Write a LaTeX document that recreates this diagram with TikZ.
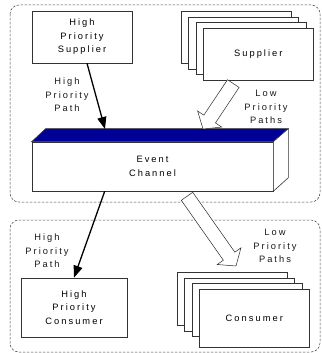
\documentclass[tikz,border=0pt]{standalone}
\usepackage{fontspec}
\setmainfont{Liberation Sans}[LetterSpace=22]
\usepackage{tikz}
\usetikzlibrary{arrows.meta}
\usetikzlibrary{calc}
\tikzset{>={Triangle[length=12pt,width=9pt]}}
\definecolor{chanblue}{RGB}{0,0,150}
\tikzset{
  box/.style={draw=black!80, fill=white, line width=0.6pt, inner sep=0pt, align=center},
  region/.style={draw=black!75, dash pattern=on 2.5pt off 1.5pt, rounded corners=9pt, line width=0.5pt},
  hipath/.style={->, line width=1.3pt},
  lopath/.style={draw=black!85, fill=white, line width=0.5pt, line join=miter},
  tag/.style={align=center, text=black!90}
}

\begin{document}
\begin{tikzpicture}[x=1pt,y=-1pt,font=\fontsize{9.3}{13.5}\selectfont]
\useasboundingbox (0,0) rectangle (321,353);
    %regions
    \draw[region] (10,5) rectangle (320,202);
    \draw[region] (10,220) rectangle (320,352);
    %suppliers
    \node[box, minimum width=100pt, minimum height=52pt] (hps) at (82,37) {High\\Priority\\Supplier};
    \foreach \i/\x/\y in {1/181/11, 2/188/17, 3/196/22}
        \node[box, minimum width=110pt, minimum height=52pt, anchor=north west] (sup\i) at (\x,\y) {};
    \node[box, minimum width=110pt, minimum height=52pt, anchor=north west] (sup4) at (203,28) {Supplier};
    %channel
    \node[box, minimum width=241pt, minimum height=49pt] (chan) at (152.5,166.5) {Event\\Channel};
    \draw[fill=chanblue, draw=black!80, line width=0.6pt] (chan.north west) -- ++(14,-13)
        -- ([shift={(15,-13)}]chan.north east) -- (chan.north east) -- cycle;
    \draw[fill=white, draw=black!80, line width=0.6pt] (chan.north east) -- ++(15,-13)
        -- ++(0,49) -- (chan.south east) -- cycle;
    %consumers
    \node[box, minimum width=106pt, minimum height=59pt] (hpc) at (74,307.5) {High\\Priority\\Consumer};
    \foreach \i/\x/\y in {1/177/272, 2/184/278, 3/192/283}
        \node[box, minimum width=110pt, minimum height=53pt, anchor=north west] (con\i) at (\x,\y) {};
    \node[box, minimum width=110pt, minimum height=58pt, anchor=north west] (con4) at (199,289) {Consumer};
    %high priority paths
    \coordinate (hpin) at (105,129);
    \draw[hipath] ([xshift=5pt]hps.south) -- (hpin);
    \draw[hipath] ([xshift=73pt]chan.south west) -- (hpc.north);
    %low priority paths
    \coordinate (lotail1) at ([xshift=-25pt,yshift=-3pt]sup4.south);
    \coordinate (lotip1) at (203,129);
    \coordinate (lotail2) at ([xshift=34.5pt,yshift=-5pt]chan.south);
    \coordinate (lotip2) at (236,266);
    \foreach \k in {1,2} {
        \coordinate (lobase\k) at ($(lotip\k)!12pt!(lotail\k)$);
        \draw[lopath] ($(lotail\k)!7pt!90:(lotip\k)$) -- ($(lobase\k)!7pt!90:(lotip\k)$)
            -- ($(lobase\k)!14.5pt!90:(lotip\k)$) -- (lotip\k) -- ($(lobase\k)!14.5pt!-90:(lotip\k)$)
            -- ($(lobase\k)!7pt!-90:(lotip\k)$) -- ($(lotail\k)!7pt!-90:(lotip\k)$) -- cycle;
    }
    %path labels
    \node[tag] (hplab1) at (67,95) {High\\Priority\\Path};
    \node[tag] (lolab1) at (266,107) {Low\\Priority\\Paths};
    \node[tag] (hplab2) at (47,251) {High\\Priority\\Path};
    \node[tag] (lolab2) at (275,246) {Low\\Priority\\Paths};
\end{tikzpicture}
\end{document}
